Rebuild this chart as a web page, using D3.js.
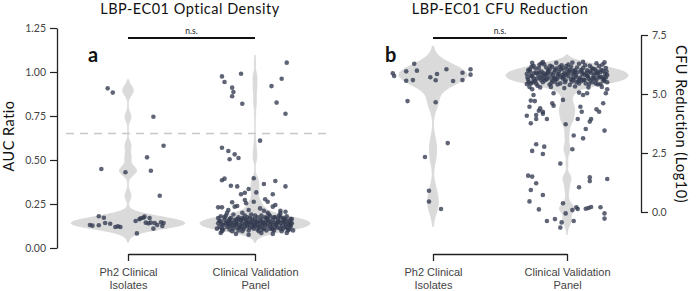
<!DOCTYPE html>
<html>
<head>
<meta charset="utf-8">
<script src="https://cdn.jsdelivr.net/npm/d3@7"></script>
<style>
  body { margin: 0; background: #fff; }
  svg { font-family: Lato, 'Open Sans', sans-serif; }
  .tick text { fill: #444; }
</style>
</head>
<body>
<svg id="chart"></svg>
<script>
// categories shared by both panels
const categories = ['Ph2 Clinical\nIsolates', 'Clinical Validation\nPanel'];
const panelTitles = ['LBP-EC01 Optical Density', 'LBP-EC01 CFU Reduction'];
const yLabels = ['AUC Ratio', 'CFU Reduction (Log10)'];
const aucTicks = [0, 0.25, 0.5, 0.75, 1.0, 1.25];
const cfuTicks = [0, 2.5, 5.0, 7.5];
const aucThreshold = 0.65;

// [jitter (fraction of category step), value]
const aucPh2 = [
  [0.28,0.581],[0.15,0.515],[-0.21,0.449],[-0.02,0.430],[0.18,0.439],[0.25,0.297],
  [-0.23,0.180],[-0.19,0.172],[-0.18,0.142],[-0.14,0.138],[-0.30,0.131],[-0.28,0.127],
  [-0.23,0.129],[-0.10,0.119],[-0.08,0.123],[-0.06,0.119],[0.06,0.153],[0.09,0.163],
  [0.10,0.169],[0.12,0.172],[0.13,0.178],[0.17,0.170],[0.14,0.144],[0.16,0.140],
  [0.18,0.144],[0.21,0.142],[0.23,0.131],[0.26,0.146],[0.28,0.142],[0.27,0.125],
  [0.20,0.110],[0.07,0.083],[-0.16,0.907],[-0.12,0.883],[0.20,0.746]
];

const aucCvp = [
  // spread above the main band
  [0.25,1.053],[-0.11,0.990],[-0.26,0.975],[-0.24,0.943],[0.21,0.962],[-0.18,0.911],
  [-0.17,0.886],[-0.18,0.862],[0.13,0.920],[-0.10,0.820],[0.17,0.826],[0.24,0.763],
  [0.04,0.610],[-0.26,0.570],[-0.21,0.551],[-0.16,0.532],[-0.20,0.504],[-0.13,0.511],
  [-0.26,0.385],[-0.24,0.394],[-0.01,0.396],[-0.19,0.354],[-0.14,0.350],[0.07,0.364],
  [0.16,0.381],[0.24,0.350],[-0.05,0.335],[-0.08,0.314],[0.01,0.316],[-0.11,0.305],
  [0.14,0.305],[-0.18,0.260],[-0.08,0.273],[-0.07,0.254],[-0.01,0.263],[0.08,0.277],
  [0.10,0.263],[0.16,0.244],[0.14,0.235],[0.04,0.225],[-0.16,0.235],[-0.14,0.239],
  [-0.29,0.231],[-0.26,0.231],[-0.21,0.216],[-0.05,0.216],[0.07,0.212],[0.20,0.212],
  [0.24,0.206],
  // dense band
  [-0.29,0.14],[-0.28,0.12],[-0.29,0.17],[-0.27,0.15],[-0.26,0.11],[-0.27,0.18],[-0.25,0.13],
  [-0.24,0.16],[-0.26,0.095],[-0.23,0.14],[-0.22,0.12],[-0.23,0.185],[-0.21,0.155],[-0.2,0.105],
  [-0.21,0.135],[-0.19,0.17],[-0.18,0.125],[-0.19,0.145],[-0.17,0.11],[-0.16,0.16],[-0.17,0.19],
  [-0.15,0.135],[-0.14,0.115],[-0.15,0.15],[-0.13,0.175],[-0.12,0.13],[-0.13,0.1],[-0.11,0.155],
  [-0.1,0.14],[-0.11,0.12],[-0.09,0.165],[-0.08,0.185],[-0.09,0.108],[-0.07,0.145],[-0.06,0.125],
  [-0.07,0.16],[-0.05,0.135],[-0.04,0.17],[-0.05,0.1],[-0.03,0.15],[-0.02,0.12],[-0.03,0.19],
  [-0.01,0.14],[0,0.16],[-0.01,0.11],[0.01,0.13],[0.02,0.175],[0.01,0.15],[0.03,0.095],
  [0.04,0.14],[0.03,0.12],[0.05,0.165],[0.06,0.13],[0.05,0.185],[0.07,0.11],[0.08,0.15],
  [0.07,0.14],[0.09,0.17],[0.1,0.125],[0.09,0.1],[0.11,0.155],[0.12,0.135],[0.11,0.19],
  [0.13,0.115],[0.14,0.16],[0.13,0.145],[0.15,0.175],[0.16,0.12],[0.15,0.1],[0.17,0.14],
  [0.18,0.165],[0.17,0.13],[0.19,0.185],[0.2,0.11],[0.19,0.15],[0.21,0.125],[0.22,0.17],
  [0.21,0.095],[0.23,0.145],[0.24,0.135],[0.23,0.16],[0.25,0.115],[0.26,0.155],[0.25,0.18],
  [0.27,0.13],[0.28,0.145],[0.27,0.105],[0.29,0.165],[0.28,0.12],[0.29,0.14],
  [-0.28,0.155],[-0.26,0.135],[-0.25,0.105],[-0.24,0.175],[-0.22,0.145],[-0.2,0.165],[-0.2,0.125],
  [-0.18,0.145],[-0.18,0.095],[-0.16,0.13],[-0.14,0.165],[-0.14,0.14],[-0.12,0.115],[-0.12,0.16],
  [-0.1,0.17],[-0.1,0.095],[-0.08,0.135],[-0.08,0.12],[-0.06,0.15],[-0.06,0.175],[-0.04,0.115],
  [-0.04,0.145],[-0.02,0.165],[-0.02,0.135],[0,0.125],[0,0.185],[0.02,0.105],[0.02,0.145],
  [0.04,0.155],[0.04,0.12],[0.06,0.145],[0.06,0.105],[0.08,0.13],[0.08,0.175],[0.1,0.145],
  [0.1,0.165],[0.12,0.11],[0.12,0.18],[0.14,0.13],[0.14,0.105],[0.16,0.145],[0.16,0.175],
  [0.18,0.115],[0.18,0.15],[0.2,0.14],[0.2,0.175],[0.22,0.11],[0.22,0.15],[0.24,0.165],
  [0.24,0.12],[0.26,0.14],[0.26,0.1],[0.28,0.165],[0.28,0.13],
  [-0.27,0.085],[-0.15,0.08],[-0.05,0.075],[0.05,0.085],[0.14,0.08],[0.25,0.085],[0.3,0.1],
  [-0.3,0.11],[-0.22,0.2],[-0.1,0.2],[0.1,0.2],[0.2,0.198]
];

const cfuPh2 = [
  [-0.14,6.28],[-0.20,5.96],[-0.12,5.99],[-0.30,5.88],[-0.29,5.76],[-0.20,5.56],
  [-0.15,5.59],[-0.02,5.71],[0.03,5.85],[0.02,5.58],[0.10,6.05],[0.15,5.55],
  [0.22,5.90],[0.22,5.59],[0.28,6.05],[0.28,5.82],[-0.19,4.70],[0.02,4.65],
  [0.11,2.92],[-0.06,2.33],[-0.03,0.90],[-0.03,0.44],[0.06,0.13]
];

const cfuCvp = [
  // spread below the main band
  [-0.26,5.20],[-0.25,4.96],[-0.27,4.72],[-0.24,4.70],[-0.28,4.46],[-0.20,4.39],
  [-0.21,4.29],[-0.18,4.25],[-0.18,4.16],[-0.10,5.03],[-0.11,4.61],[-0.10,4.50],
  [-0.03,4.75],[0.09,5.06],[0.12,4.96],[0.15,5.03],[0.10,4.46],[0.11,4.25],
  [0.22,4.35],[0.24,4.25],[0.27,4.61],[0.29,5.03],[0.30,5.20],
  [-0.30,4.08],[-0.23,4.11],[-0.23,3.94],[-0.15,3.94],[-0.27,3.76],[-0.01,3.72],
  [0.08,3.94],[0.18,3.94],[0.17,3.83],[0.28,3.45],[0.14,3.52],[0.05,3.24],[0.12,3.12],
  [-0.23,2.87],[-0.17,2.77],[-0.26,2.59],[-0.18,2.46],[0.04,2.66],[-0.05,2.05],
  [-0.29,1.54],[-0.26,1.50],[-0.23,1.22],[-0.27,0.93],[-0.18,0.72],[-0.28,0.45],
  [-0.21,0.11],[0.17,1.47],[0.17,1.31],[0.30,1.40],[0.09,1.05],[-0.03,0.37],
  [0.04,0.08],[0.07,0.20],[0.08,0.13],[0.14,0.14],[0.16,0.17],[0.18,0.21],
  [0.25,0.20],[0.28,-0.06],[0.28,-0.28],[-0.01,-0.06],[-0.15,-0.38],[-0.09,-0.30],
  [-0.04,-0.44],[-0.05,-0.66],[0.05,-0.38],
  // dense band
  [-0.30,5.85],[-0.29,5.6],[-0.28,6.05],[-0.27,5.45],[-0.26,5.75],[-0.25,6.2],[-0.24,5.55],
  [-0.23,5.9],[-0.22,5.35],[-0.21,6.1],[-0.2,5.7],[-0.19,5.95],[-0.18,5.5],[-0.17,6.25],
  [-0.16,5.8],[-0.15,5.62],[-0.14,6.0],[-0.13,5.4],[-0.12,5.87],[-0.11,6.15],[-0.1,5.68],
  [-0.09,5.52],[-0.08,6.08],[-0.07,5.78],[-0.06,5.95],[-0.05,5.45],[-0.04,6.22],[-0.03,5.65],
  [-0.02,5.9],[-0.01,5.58],[0,6.05],[0.01,5.75],[0.02,5.38],[0.03,6.15],[0.04,5.85],
  [0.05,5.6],[0.06,6.0],[0.07,5.5],[0.08,5.92],[0.09,6.28],[0.1,5.7],[0.11,5.55],
  [0.12,6.1],[0.13,5.82],[0.14,5.45],[0.15,6.0],[0.16,5.65],[0.17,6.2],[0.18,5.9],
  [0.19,5.5],[0.2,5.78],[0.21,6.05],[0.22,5.6],[0.23,5.88],[0.24,6.18],[0.25,5.42],
  [0.26,5.72],[0.27,5.98],[0.28,5.55],[0.29,6.1],[0.3,5.8],
  [-0.295,5.7],[-0.275,5.95],[-0.255,5.5],[-0.235,6.08],[-0.215,5.82],[-0.195,5.6],
  [-0.175,5.88],[-0.155,6.12],[-0.135,5.7],[-0.115,5.48],[-0.095,5.92],[-0.075,5.62],
  [-0.055,6.15],[-0.035,5.8],[-0.015,5.5],[0.005,5.88],[0.025,6.02],[0.045,5.68],
  [0.065,5.8],[0.085,5.55],[0.105,6.02],[0.125,5.6],[0.145,5.9],[0.165,5.42],
  [0.185,6.1],[0.205,5.65],[0.225,5.95],[0.245,5.7],[0.265,6.25],[0.285,5.85],
  [-0.285,5.5],[-0.265,6.15],[-0.245,5.88],[-0.225,5.65],[-0.205,6.25],[-0.185,5.78],
  [-0.165,5.58],[-0.145,5.92],[-0.125,6.2],[-0.105,5.78],[-0.085,5.65],[-0.065,5.85],
  [-0.045,6.05],[-0.025,5.72],[-0.005,6.18],[0.015,5.95],[0.035,5.52],[0.055,5.9],
  [0.075,6.12],[0.095,5.62],[0.115,5.85],[0.135,6.22],[0.155,5.75],[0.175,5.58],
  [0.195,6.05],[0.215,5.45],[0.235,5.75],[0.255,6.02],[0.275,5.65],[0.295,5.95],
  [-0.29,6.0],[-0.27,5.78],[-0.25,5.65],[-0.23,5.45],[-0.21,5.92],[-0.19,6.3],[-0.17,5.68],
  [-0.15,5.85],[-0.13,6.05],[-0.11,5.58],[-0.09,6.02],[-0.07,5.4],[-0.05,5.72],[-0.03,6.08],
  [-0.01,5.82],[0.01,6.25],[0.03,5.62],[0.05,5.98],[0.07,5.72],[0.09,5.45],[0.11,5.95],
  [0.13,5.6],[0.15,5.78],[0.17,5.95],[0.19,5.68],[0.21,5.88],[0.23,5.4],[0.25,5.92],
  [0.27,5.58],[0.29,5.7],
  [-0.26,6.32],[-0.18,6.35],[-0.08,6.32],[0.04,6.33],[0.12,6.36],[0.22,6.3],[0.28,6.34],
  [-0.28,5.3],[-0.2,5.28],[-0.12,5.3],[-0.02,5.25],[0.06,5.32],[0.16,5.28],[0.26,5.3],
  [-0.3,5.42],[0.3,5.5]
];

const W = 696, H = 291;
const violinColor = '#dadada';
const dotColor = '#323a50';

const svg = d3.select('#chart').attr('width', W).attr('height', H);

// gaussian kde over value axis
function kde(values, bw, cut) {
  const lo = d3.min(values) - cut * bw, hi = d3.max(values) + cut * bw;
  const n = 240;
  return d3.range(n + 1).map(i => {
    const t = lo + (hi - lo) * i / n;
    return [t, d3.sum(values, v => Math.exp(-0.5 * ((t - v) / bw) ** 2))];
  });
}

function drawPanel(cfg) {
  const g = svg.append('g');

  const y = d3.scaleLinear().domain(cfg.domain).range(cfg.yRange);
  const x = d3.scalePoint().domain(categories).range(cfg.xRange);
  const step = cfg.xRange[1] - cfg.xRange[0];

  // violins
  cfg.series.forEach((s, i) => {
    const dens = kde(s.data.map(d => d[1]), s.bw, 2);
    const w = d3.scaleLinear().domain([0, d3.max(dens, d => d[1])]).range([0, s.halfWidth]);
    const cx = x(categories[i]);
    g.append('path')
      .datum(dens)
      .attr('fill', violinColor)
      .attr('stroke', violinColor)
      .attr('stroke-width', 1)
      .attr('d', d3.area()
        .x0(d => cx - w(d[1]))
        .x1(d => cx + w(d[1]))
        .y(d => y(d[0]))
        .curve(d3.curveBasis));
  });

  if (cfg.threshold != null) {
    g.append('line')
      .attr('x1', cfg.dashX[0]).attr('x2', cfg.dashX[1])
      .attr('y1', y(cfg.threshold)).attr('y2', y(cfg.threshold))
      .attr('stroke', '#c8c8c8')
      .attr('stroke-width', 1.5)
      .attr('stroke-dasharray', '8,6');
  }

  // points
  cfg.series.forEach((s, i) => {
    const cx = x(categories[i]);
    g.selectAll(null)
      .data(s.data)
      .join('circle')
      .attr('cx', d => cx + d[0] * step)
      .attr('cy', d => y(d[1]))
      .attr('r', 2.3)
      .attr('fill', dotColor)
      .attr('fill-opacity', 0.78);
  });

  // value axis
  const yAxis = (cfg.side === 'left' ? d3.axisLeft(y) : d3.axisRight(y))
    .tickValues(cfg.ticks)
    .tickFormat(d3.format(cfg.fmt))
    .tickSize(7)
    .tickSizeOuter(0)
    .tickPadding(4);
  const yg = g.append('g')
    .attr('transform', `translate(${cfg.axisX},0)`)
    .call(yAxis);
  yg.select('.domain').attr('stroke', '#222').attr('stroke-width', 1.3);
  yg.selectAll('.tick line').attr('stroke', '#222').attr('stroke-width', 1.2);
  yg.selectAll('.tick text').attr('font-size', 10.5).attr('font-family', 'Lato, sans-serif');

  // category axis (bracket)
  const xAxis = d3.axisBottom(x).tickSize(7).tickSizeOuter(0).tickFormat('');
  const xg = g.append('g')
    .attr('transform', `translate(0,${cfg.bracketY})`)
    .call(xAxis);
  xg.select('.domain').attr('stroke', '#222').attr('stroke-width', 1.3);
  xg.selectAll('.tick line').attr('stroke', '#222').attr('stroke-width', 1.3);
  xg.selectAll('.tick').each(function(d) {
    const t = d3.select(this).append('text')
      .attr('fill', '#222')
      .attr('font-size', 11)
      .attr('text-anchor', 'middle');
    d.split('\n').forEach((line, k) => {
      t.append('tspan').attr('x', 0).attr('y', 21.5 + k * 13).text(line);
    });
  });

  // n.s. bracket
  g.append('line')
    .attr('x1', cfg.xRange[0]).attr('x2', cfg.xRange[1])
    .attr('y1', 38).attr('y2', 38)
    .attr('stroke', '#111').attr('stroke-width', 2);
  g.append('text')
    .attr('x', (cfg.xRange[0] + cfg.xRange[1]) / 2)
    .attr('y', 33.5)
    .attr('text-anchor', 'middle')
    .attr('font-size', 8.5)
    .attr('fill', '#222')
    .text('n.s.');

  // title
  g.append('text')
    .attr('x', cfg.titleX).attr('y', 13.5)
    .attr('text-anchor', 'middle')
    .attr('font-size', 14.5)
    .attr('letter-spacing', 0.5)
    .attr('fill', '#111')
    .text(cfg.title);

  // panel letter
  g.append('text')
    .attr('x', cfg.letterX).attr('y', 62)
    .attr('font-size', 20)
    .attr('font-weight', 'bold')
    .attr('fill', '#111')
    .text(cfg.letter);

  // axis label
  g.append('text')
    .attr('transform', `translate(${cfg.labelX},${cfg.labelY}) rotate(${cfg.side === 'left' ? -90 : 90})`)
    .attr('text-anchor', 'middle')
    .attr('font-size', 14.5)
    .attr('letter-spacing', 0.5)
    .attr('fill', '#111')
    .text(cfg.yLabel);
}

drawPanel({
  domain: [0, 1.25], yRange: [248, 28], xRange: [128, 255],
  series: [
    { data: aucPh2, bw: 0.025, halfWidth: 57 },
    { data: aucCvp, bw: 0.022, halfWidth: 55 }
  ],
  threshold: aucThreshold, dashX: [66, 331],
  side: 'left', axisX: 57, ticks: aucTicks, fmt: '.2f',
  bracketY: 254, title: panelTitles[0], titleX: 190,
  letter: 'a', letterX: 88, yLabel: yLabels[0], labelX: 14, labelY: 136
});

drawPanel({
  domain: [0, 7.5], yRange: [212, 35], xRange: [433, 567],
  series: [
    { data: cfuPh2, bw: 0.37, halfWidth: 34 },
    { data: cfuCvp, bw: 0.15, halfWidth: 61 }
  ],
  threshold: null,
  side: 'right', axisX: 641, ticks: cfuTicks, fmt: '.1f',
  bracketY: 254, title: panelTitles[1], titleX: 500,
  letter: 'b', letterX: 385, yLabel: yLabels[1], labelX: 676, labelY: 124
});
</script>
</body>
</html>
